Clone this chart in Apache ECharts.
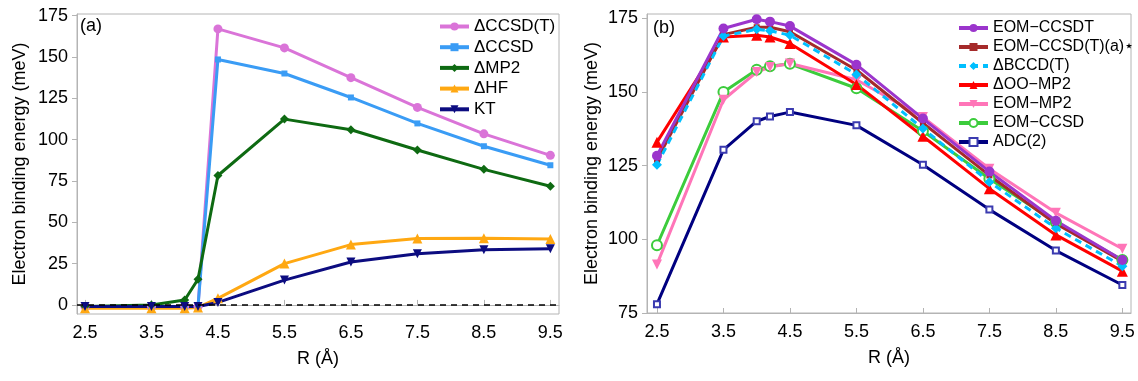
<!DOCTYPE html>
<html><head><meta charset="utf-8">
<script src="https://cdn.jsdelivr.net/npm/echarts@6/dist/echarts.min.js"></script>
<style>html,body{margin:0;padding:0;background:#fff}#c{width:1138px;height:381px}</style>
</head><body><div id="c"></div>
<script>
// ---- data ----
const R = [2.5, 3.5, 4.0, 4.2, 4.5, 5.5, 6.5, 7.5, 8.5, 9.5];
const xTicks = [2.5, 3.5, 4.5, 5.5, 6.5, 7.5, 8.5, 9.5];
const yTicksA = [0, 25, 50, 75, 100, 125, 150, 175];
const yTicksB = [75, 100, 125, 150, 175];
// panel (a)
const dCCSDT = [-1, -1, -1, -1, 167, 155.5, 137.5, 119.5, 103.5, 90.5];
const dCCSD  = [-1, -1, -1, -1, 148.5, 140, 125.5, 109.8, 96, 84.5];
const dMP2   = [-1, 0, 3, 15.5, 78.3, 112.4, 106, 93.7, 82, 71.8];
const dHF    = [-2, -2, -2, -1.5, 4, 25, 36.5, 40.2, 40.4, 39.8];
const KT     = [-1, -1, -1, -1, 1.5, 15, 26, 31, 33.3, 34];
// panel (b)
const eomCCSDT  = [128.4, 171.6, 174.7, 173.9, 172.4, 159.3, 141, 123, 106.3, 93];
const eomCCSDTa = [127, 169.5, 172, 172, 170.5, 157.5, 139.5, 121.7, 105.3, 92.6];
const dBCCDT    = [125.3, 169, 171.3, 170.8, 169.3, 156, 137.6, 119.5, 103.8, 90.9];
const dOOMP2    = [133, 168.7, 169.3, 168.7, 166.5, 152.6, 135, 117.2, 101.5, 89.2];
const eomMP2    = [91.5, 147.4, 156.8, 158.5, 159.7, 154.2, 141.5, 124, 109, 96.8];
const eomCCSD   = [98, 150, 157.6, 158.8, 159.6, 151.3, 136.8, 120.6, 105.8, 93];
const adc2      = [78, 130.4, 140.1, 141.7, 143.2, 138.7, 125.3, 110.1, 96.2, 84.5];

const namesA = ['ΔCCSD(T)', 'ΔCCSD', 'ΔMP2', 'ΔHF', 'KT'];
const namesB = ['EOM\u2212CCSDT', 'EOM\u2212CCSD(T)(a)\u22C6', 'ΔBCCD(T)', 'ΔOO\u2212MP2', 'EOM\u2212MP2', 'EOM\u2212CCSD', 'ADC(2)'];

const FONT = '"Liberation Sans", Arial, sans-serif';
const pairs = v => R.map((r, i) => [r, v[i]]);

function mk(name, vals, color, symbol, size, gi, opts) {
  opts = opts || {};
  return {
    type: 'line', name: name, data: pairs(vals),
    xAxisIndex: gi, yAxisIndex: gi,
    symbol: symbol, symbolSize: size, symbolRotate: opts.rot || 0,
    showSymbol: true,
    lineStyle: { color: color, width: 3, type: opts.dash ? [7, 5] : 'solid' },
    itemStyle: { color: opts.mcolor || color, borderWidth: opts.bw || 0 },
    emphasis: { disabled: true },
    animation: false,
    markLine: opts.markLine
  };
}

const gridA = { left: 77, top: 14, width: 482, height: 300 };
const gridB = { left: 647, top: 14, width: 484, height: 299 };
const frame = '#b4b4b4';

function xAx(gi, min, max) {
  return {
    type: 'value', gridIndex: gi, min: min, max: max,
    name: 'R (Å)', nameLocation: 'middle', nameGap: 36,
    nameTextStyle: { fontFamily: FONT, fontSize: 18, color: '#000' },
    axisLine: { show: true, lineStyle: { color: frame, width: 1 } },
    axisTick: { show: true, inside: true, length: 5, lineStyle: { color: frame }, customValues: xTicks },
    axisLabel: { fontFamily: FONT, fontSize: 18, color: '#000', margin: 10, customValues: xTicks, formatter: v => v.toFixed(1) },
    splitLine: { show: false }
  };
}
function yAx(gi, min, max, ticks, gap) {
  return {
    type: 'value', gridIndex: gi, min: min, max: max,
    name: 'Electron binding energy (meV)', nameLocation: 'middle', nameGap: gap,
    nameTextStyle: { fontFamily: FONT, fontSize: 18, color: '#000' },
    axisLine: { show: true, lineStyle: { color: frame, width: 1 } },
    axisTick: { show: true, inside: false, length: 5, lineStyle: { color: frame }, customValues: ticks },
    axisLabel: { fontFamily: FONT, fontSize: 18, color: '#000', margin: 9, customValues: ticks },
    splitLine: { show: false }
  };
}

const option = {
  backgroundColor: '#fff',
  animation: false,
  grid: [
    Object.assign({ show: true, borderColor: frame, borderWidth: 1 }, gridA),
    Object.assign({ show: true, borderColor: frame, borderWidth: 1 }, gridB)
  ],
  xAxis: [xAx(0, 2.38, 9.63), xAx(1, 2.35, 9.63)],
  yAxis: [yAx(0, -5.5, 176, yTicksA, 48), yAx(1, 75, 176.5, yTicksB, 46)],
  legend: [
    {
      data: namesA, orient: 'vertical', left: 433, top: 13, itemWidth: 29, itemHeight: 10, itemGap: 3.7,
      lineStyle: { width: 4 },
      textStyle: { fontFamily: FONT, fontSize: 17, color: '#000' }, selectedMode: false
    },
    {
      data: namesB, orient: 'vertical', left: 952, top: 15, itemWidth: 29, itemHeight: 10, itemGap: 3,
      lineStyle: { width: 4 },
      textStyle: { fontFamily: FONT, fontSize: 16, color: '#000' }, selectedMode: false
    }
  ],
  graphic: [
    { type: 'text', left: 80, top: 17, style: { text: '(a)', fontFamily: FONT, fontSize: 18, fill: '#000' } },
    { type: 'text', left: 653, top: 19, style: { text: '(b)', fontFamily: FONT, fontSize: 18, fill: '#000' } }
  ],
  series: [
    mk(namesA[0], dCCSDT, '#da74d8', 'circle', 9, 0),
    mk(namesA[1], dCCSD, '#3a9cf5', 'rect', 6, 0),
    mk(namesA[2], dMP2, '#0e6a12', 'diamond', 9, 0),
    mk(namesA[3], dHF, '#ffa812', 'triangle', 10, 0),
    mk(namesA[4], KT, '#0c0c80', 'triangle', 9, 0, {
      rot: 180,
      markLine: {
        silent: true, symbol: 'none', label: { show: false },
        lineStyle: { color: '#000', type: [6, 5], width: 1.5 },
        data: [{ yAxis: 0 }]
      }
    }),
    mk(namesB[6], adc2, '#000080', 'emptyRect', 6, 1, { mcolor: '#3b3bb0', bw: 1.2 }),
    mk(namesB[5], eomCCSD, '#3ccc3c', 'emptyCircle', 10, 1, { bw: 1 }),
    mk(namesB[4], eomMP2, '#ff75b8', 'triangle', 10, 1, { rot: 180 }),
    mk(namesB[3], dOOMP2, '#ff0000', 'triangle', 11, 1),
    mk(namesB[1], eomCCSDTa, '#a52a2a', 'rect', 6, 1),
    mk(namesB[2], dBCCDT, '#00bfff', 'diamond', 10, 1, { dash: true }),
    mk(namesB[0], eomCCSDT, '#9b35cc', 'circle', 10, 1)
  ]
};

const chart = echarts.init(document.getElementById('c'), null, { renderer: 'canvas' });
chart.setOption(option);
</script>
</body></html>
